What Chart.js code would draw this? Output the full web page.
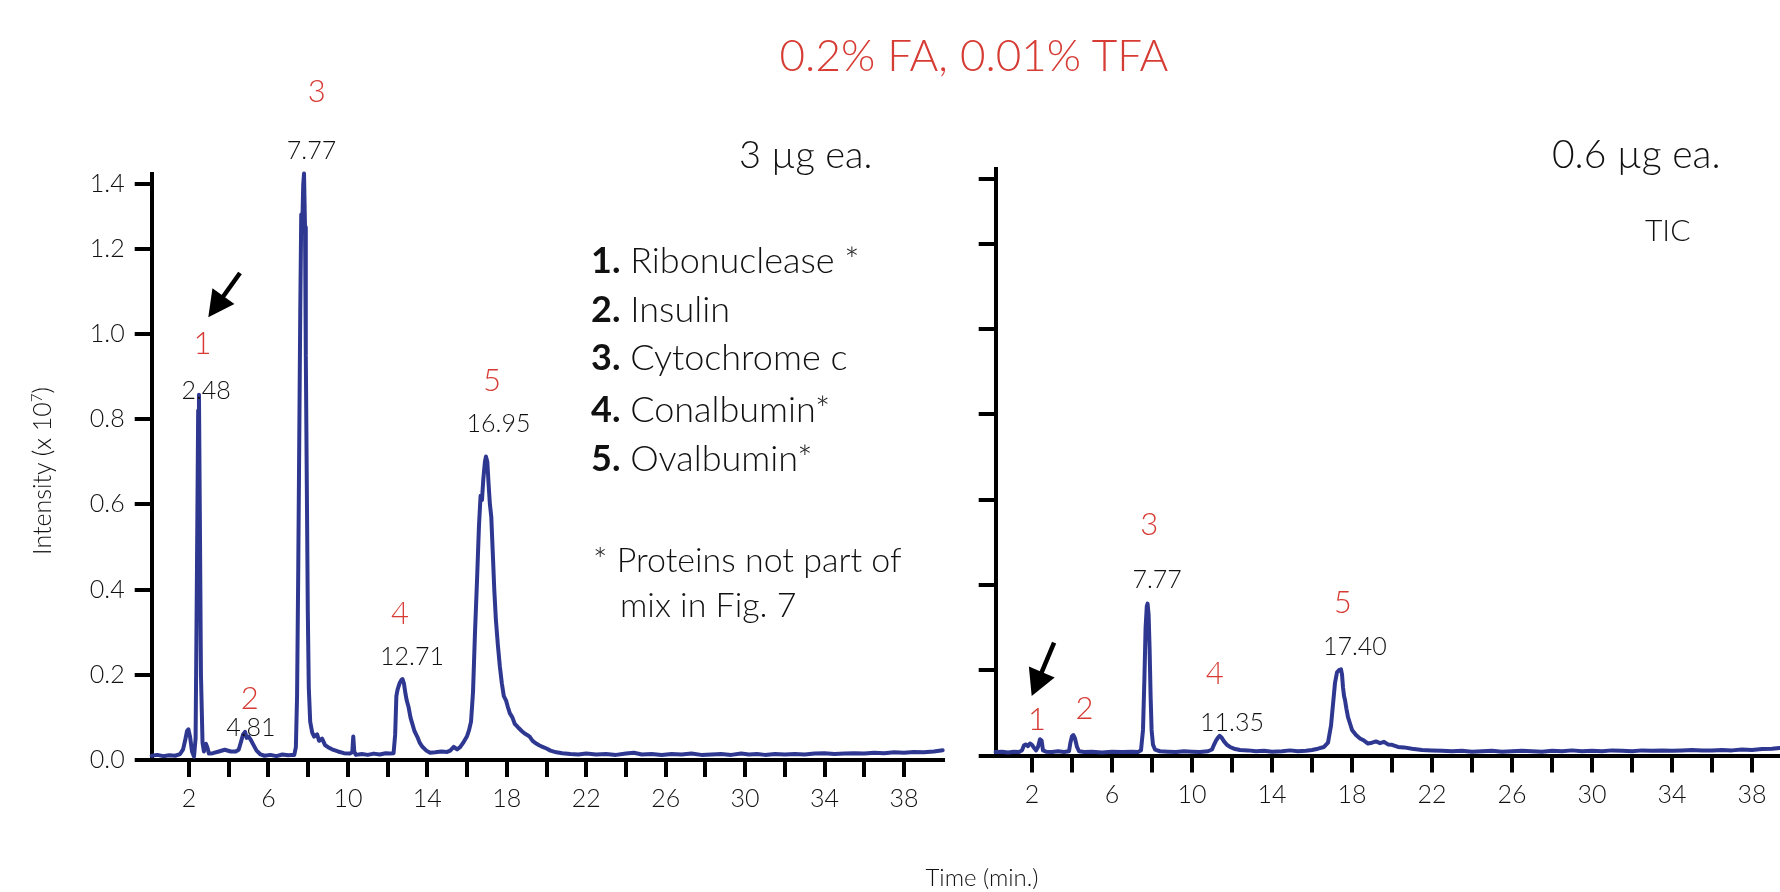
<!DOCTYPE html>
<html><head><meta charset="utf-8">
<script src="https://cdn.jsdelivr.net/npm/chart.js@4.4.1/dist/chart.umd.min.js"></script>
<style>
html,body{margin:0;padding:0;background:#fff;overflow:hidden;width:1780px;height:892px;}
#wrap{position:relative;width:1780px;height:892px;overflow:hidden;}
canvas{position:absolute;}
#c1{left:0;top:0;}
#c2{left:960px;top:0;}
#ov{position:absolute;left:0;top:0;pointer-events:none;}
#ov text{font-family:Lato,'Open Sans',sans-serif;font-weight:300;}
</style></head><body>
<div id="wrap">
<canvas id="c1" width="960" height="892"></canvas>
<canvas id="c2" width="840" height="892"></canvas>
<svg id="ov" width="1780" height="892" xmlns="http://www.w3.org/2000/svg">
  <text x="974" y="71" text-anchor="middle" font-size="44" fill="#d63b34">0.2% FA, 0.01% TFA</text>
  <text x="739" y="168" font-size="38" fill="#111">3 µg ea.</text>
  <text x="1552" y="168" font-size="39" fill="#111">0.6 µg ea.</text>
  <text x="1645" y="241" font-size="30" fill="#111">TIC</text>
  <g id="legend" font-size="36" fill="#111"></g>
  <g id="peaks"></g>
  <g id="arrows"></g>
  <text transform="translate(51,471) rotate(-90)" text-anchor="middle" font-size="25" fill="#111">Intensity (x 10<tspan dy="-9" font-size="15">7</tspan><tspan dy="9">)</tspan></text>
  <text x="982" y="886" text-anchor="middle" font-size="24" fill="#111">Time (min.)</text>
</svg>
</div>
<script>
// ---------- DATA ----------
const xTickValues = [2,4,6,8,10,12,14,16,18,20,22,24,26,28,30,32,34,36,38];
const xTickLabels = ['2','6','10','14','18','22','26','30','34','38'];
const yTickValues = [0,0.2,0.4,0.6,0.8,1.0,1.2,1.352];
const yTickLabels = ['0.0','0.2','0.4','0.6','0.8','1.0','1.2','1.4'];

// Left panel: 3 µg each (time in min, intensity x10^7)
const leftTime = [0.12,0.4,0.7,1.0,1.3,1.55,1.7,1.8,1.9,1.97,2.05,2.15,2.25,2.33,2.4,2.46,2.5,2.54,2.6,2.68,2.75,2.85,2.92,3.0,3.2,3.5,3.8,4.1,4.35,4.5,4.6,4.72,4.82,4.9,5.0,5.1,5.25,5.4,5.6,5.8,6.1,6.4,6.7,7.0,7.2,7.3,7.38,7.44,7.5,7.55,7.6,7.65,7.7,7.75,7.79,7.84,7.88,7.93,7.98,8.03,8.1,8.2,8.3,8.45,8.55,8.7,8.85,9.0,9.2,9.5,9.8,10.1,10.22,10.27,10.32,10.4,10.7,11.0,11.3,11.6,11.9,12.1,12.3,12.38,12.44,12.5,12.6,12.7,12.75,12.82,12.9,12.96,13.05,13.15,13.23,13.35,13.49,13.62,13.75,13.95,14.14,14.4,14.7,15.0,15.15,15.33,15.5,15.65,15.8,15.99,16.1,16.2,16.3,16.4,16.5,16.6,16.68,16.75,16.82,16.9,16.95,17.02,17.08,17.15,17.22,17.3,17.37,17.45,17.55,17.65,17.75,17.85,17.96,18.05,18.15,18.28,18.4,18.5,18.6,18.75,18.9,19.05,19.15,19.3,19.5,19.65,19.8,20.0,20.2,20.5,20.8,21.2,21.6,22.0,22.5,23.0,23.5,24.0,24.4,24.8,25.3,25.8,26.3,26.8,27.3,27.8,28.3,28.8,29.3,29.8,30.2,30.6,31.0,31.5,32.0,32.5,33.0,33.5,34.0,34.5,35.0,35.5,36.0,36.5,37.0,37.5,38.0,38.5,39.0,39.5,39.95];
const leftIntensity = [0.010,0.012,0.009,0.011,0.010,0.014,0.025,0.045,0.068,0.072,0.055,0.020,0.008,0.050,0.450,0.820,0.857,0.600,0.200,0.040,0.020,0.038,0.030,0.015,0.016,0.020,0.024,0.020,0.020,0.024,0.040,0.060,0.066,0.052,0.055,0.048,0.035,0.022,0.013,0.010,0.012,0.009,0.013,0.011,0.012,0.012,0.030,0.150,0.450,0.750,1.050,1.280,1.250,1.350,1.376,1.250,0.950,0.650,0.350,0.170,0.090,0.065,0.055,0.060,0.045,0.050,0.035,0.030,0.025,0.020,0.016,0.015,0.018,0.055,0.020,0.012,0.014,0.012,0.015,0.013,0.016,0.015,0.016,0.060,0.150,0.165,0.180,0.188,0.190,0.180,0.155,0.140,0.125,0.100,0.087,0.068,0.055,0.040,0.031,0.022,0.017,0.018,0.020,0.019,0.022,0.031,0.025,0.030,0.040,0.055,0.070,0.090,0.160,0.300,0.420,0.550,0.620,0.610,0.660,0.700,0.712,0.700,0.650,0.600,0.570,0.480,0.400,0.330,0.270,0.220,0.180,0.150,0.140,0.125,0.110,0.100,0.085,0.080,0.075,0.068,0.062,0.058,0.055,0.045,0.038,0.034,0.031,0.027,0.022,0.018,0.016,0.014,0.013,0.015,0.013,0.014,0.012,0.015,0.017,0.013,0.014,0.012,0.014,0.013,0.015,0.012,0.013,0.014,0.012,0.015,0.013,0.014,0.012,0.014,0.013,0.014,0.013,0.015,0.016,0.014,0.015,0.016,0.015,0.017,0.016,0.018,0.017,0.019,0.018,0.020,0.023];

// Right panel: 0.6 µg each
const rightTime = [0.18,0.5,0.8,1.1,1.35,1.5,1.6,1.7,1.8,1.9,2.0,2.1,2.2,2.3,2.4,2.48,2.55,2.7,3.0,3.3,3.6,3.85,3.92,4.0,4.07,4.15,4.25,4.35,4.6,5.0,5.5,6.0,6.5,7.0,7.3,7.45,7.55,7.62,7.68,7.74,7.78,7.83,7.88,7.93,7.98,8.05,8.15,8.4,8.8,9.2,9.6,10.0,10.4,10.8,11.0,11.1,11.2,11.3,11.38,11.48,11.6,11.75,11.9,12.1,12.4,12.8,13.2,13.6,14.0,14.5,14.9,15.3,15.7,16.0,16.3,16.6,16.8,16.95,17.05,17.15,17.25,17.35,17.45,17.5,17.55,17.6,17.65,17.72,17.8,17.9,18.0,18.2,18.4,18.6,18.8,19.0,19.2,19.4,19.6,19.8,20.0,20.3,20.6,21.0,21.5,22.0,22.5,23.0,23.5,24.0,24.5,25.0,25.5,26.0,26.5,27.0,27.5,28.0,28.5,29.0,29.5,30.0,30.5,31.0,31.5,32.0,32.5,33.0,33.5,34.0,34.5,35.0,35.5,36.0,36.5,37.0,37.5,38.0,38.5,39.0,39.5,40.0];
const rightIntensity = [0.008,0.009,0.007,0.009,0.008,0.012,0.024,0.026,0.022,0.028,0.025,0.018,0.012,0.020,0.038,0.035,0.012,0.009,0.008,0.010,0.008,0.010,0.030,0.045,0.048,0.040,0.020,0.010,0.008,0.009,0.007,0.009,0.008,0.009,0.008,0.012,0.060,0.180,0.300,0.350,0.356,0.330,0.250,0.140,0.060,0.025,0.014,0.010,0.009,0.008,0.010,0.009,0.008,0.010,0.014,0.025,0.035,0.042,0.046,0.042,0.033,0.025,0.020,0.016,0.013,0.012,0.010,0.011,0.009,0.010,0.012,0.010,0.011,0.013,0.016,0.020,0.030,0.070,0.120,0.170,0.195,0.200,0.202,0.190,0.160,0.140,0.130,0.110,0.090,0.075,0.060,0.048,0.040,0.035,0.028,0.030,0.033,0.029,0.032,0.026,0.025,0.020,0.019,0.016,0.013,0.012,0.011,0.010,0.011,0.009,0.010,0.011,0.009,0.010,0.011,0.010,0.009,0.011,0.010,0.012,0.010,0.011,0.010,0.012,0.011,0.010,0.012,0.011,0.012,0.011,0.012,0.013,0.012,0.012,0.013,0.012,0.014,0.013,0.015,0.016,0.018,0.019,0.020];

// Peak annotations
const peakNumbers = ['1','2','3','4','5'];
const leftPeakTimes = ['2.48','4.81','7.77','12.71','16.95'];
const rightPeakTimes = ['7.77','11.35','17.40'];
const legendNames = ['Ribonuclease *','Insulin','Cytochrome c','Conalbumin*','Ovalbumin*'];
const footnote = ['* Proteins not part of','mix in Fig. 7'];

// ---------- LAYOUT (pixels) ----------
const RED = '#d63b34', TRACE = '#2f3891';
const leftRedPos  = [[202.5,354],[249.8,709],[316.7,101.5],[400,624],[492,391]];
const leftTimePos = [[206.2,398.7],[250.9,735.5],[311.5,159.3],[412,665],[498.5,431.5]];
const rightRedPos = [[1036.9,730],[1084.5,718.7],[1149.3,535.3],[1214.7,684.3],[1342.8,613.3]];
const rightTimePos = [[1157.2,588],[1232,731.3],[1354.9,654.7]];
const arrowsGeom = [{tail:[240,273],tip:[208.3,317.3],hl:26,hw:27},{tail:[1054.1,642.7],tip:[1031.7,696],hl:26,hw:28}];
const legendX = 591, legendBase = [272.7,321.7,370,421.7,470.7], footX=[593,620], footBase=[571.7,616.7];

const NS = 'http://www.w3.org/2000/svg';
function txt(parent, x, y, s, size, fill, anchor){
  const t = document.createElementNS(NS,'text');
  t.setAttribute('x',x); t.setAttribute('y',y);
  t.setAttribute('font-size',size); t.setAttribute('fill',fill);
  if(anchor) t.setAttribute('text-anchor',anchor);
  t.textContent = s; parent.appendChild(t); return t;
}
const peaksG = document.getElementById('peaks');
peakNumbers.forEach((n,i)=>{ txt(peaksG,leftRedPos[i][0],leftRedPos[i][1],n,31,RED,'middle'); });
leftPeakTimes.forEach((s,i)=>{ txt(peaksG,leftTimePos[i][0],leftTimePos[i][1],s,25,'#111','middle'); });
peakNumbers.forEach((n,i)=>{ txt(peaksG,rightRedPos[i][0],rightRedPos[i][1],n,31,RED,'middle'); });
rightPeakTimes.forEach((s,i)=>{ txt(peaksG,rightTimePos[i][0],rightTimePos[i][1],s,25,'#111','middle'); });

const legG = document.getElementById('legend');
legendNames.forEach((name,i)=>{
  const t = document.createElementNS(NS,'text');
  t.setAttribute('x',legendX); t.setAttribute('y',legendBase[i]);
  const b = document.createElementNS(NS,'tspan');
  b.setAttribute('font-weight','700'); b.setAttribute('style','font-weight:700');
  b.textContent = peakNumbers[i]+'.';
  t.appendChild(b);
  t.appendChild(document.createTextNode(' '+name));
  legG.appendChild(t);
});
footnote.forEach((s,i)=>{ txt(legG,footX[i],footBase[i],s,34,'#111'); });

const arrG = document.getElementById('arrows');
arrowsGeom.forEach(a=>{
  const dx=a.tip[0]-a.tail[0], dy=a.tip[1]-a.tail[1], L=Math.hypot(dx,dy);
  const ux=dx/L, uy=dy/L, px=-uy, py=ux;
  const bx=a.tip[0]-ux*a.hl, by=a.tip[1]-uy*a.hl;
  const line=document.createElementNS(NS,'line');
  line.setAttribute('x1',a.tail[0]);line.setAttribute('y1',a.tail[1]);
  line.setAttribute('x2',bx+ux*2);line.setAttribute('y2',by+uy*2);
  line.setAttribute('stroke','#000');line.setAttribute('stroke-width','4.5');
  arrG.appendChild(line);
  const poly=document.createElementNS(NS,'polygon');
  poly.setAttribute('points',`${a.tip[0]},${a.tip[1]} ${bx+px*a.hw/2},${by+py*a.hw/2} ${bx-px*a.hw/2},${by-py*a.hw/2}`);
  poly.setAttribute('fill','#000');
  arrG.appendChild(poly);
});

// ---------- CHARTS ----------
const tickFont = {family:'Lato', size:25, weight:'300'};
function panel(canvasId, times, values, g, showY){
  const data = times.map((t,i)=>({x:t, y:values[i]}));
  const gridOpt = {display:true, drawOnChartArea:false, drawTicks:true, tickLength:17, tickWidth:4, tickColor:'#000', lineWidth:4, color:'#000'};
  return new Chart(document.getElementById(canvasId), {
    type:'line',
    data:{datasets:[{data, borderColor:TRACE, borderWidth:4, pointRadius:0, tension:0, fill:false, clip:false, borderJoinStyle:'round', borderCapStyle:'round'}]},
    options:{
      responsive:false, animation:false, devicePixelRatio:1,
      layout:{padding:{left:0, top:g.top, right:g.w-g.right, bottom:0}},
      plugins:{legend:{display:false}, tooltip:{enabled:false}},
      scales:{
        x:{type:'linear', min:g.xmin, max:g.xmax,
          afterBuildTicks:s=>{ s.ticks = xTickValues.map(v=>({value:v})); },
          afterFit:s=>{ s.height = g.h - g.bottom; },
          ticks:{autoSkip:false, maxRotation:0, minRotation:0, padding:7, color:'#111', font:tickFont,
                 callback:v=> xTickLabels.includes(String(v)) ? String(v) : ''},
          grid:gridOpt, border:{display:true, width:4, color:'#000'}
        },
        y:{type:'linear', min:0, max:1.375,
          afterBuildTicks:s=>{ s.ticks = yTickValues.map(v=>({value:v})); },
          afterFit:s=>{ s.width = g.left; },
          ticks:{padding:10, color:'#111', font:tickFont,
                 callback:(v,i)=> showY ? yTickLabels[i] : ''},
          grid:gridOpt, border:{display:true, width:4, color:'#000'}
        }
      }
    }
  });
}
panel('c1', leftTime, leftIntensity, {w:960,h:892,left:151.7,right:942.7,top:174,bottom:760,xmin:0.12,xmax:39.95}, true);
panel('c2', rightTime, rightIntensity, {w:840,h:892,left:35.7,right:832,top:169,bottom:755.5,xmin:0.185,xmax:40}, false);
</script>
</body></html>
